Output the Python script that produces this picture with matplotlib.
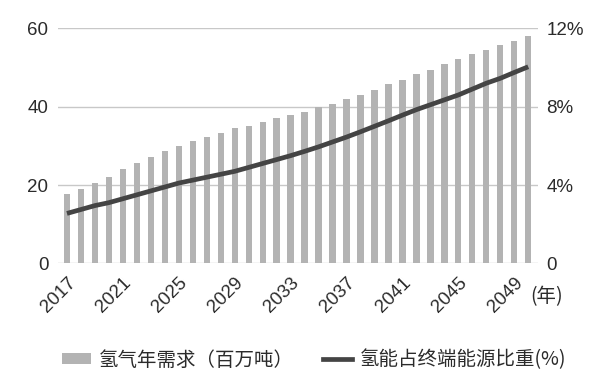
import matplotlib
matplotlib.use("Agg")
import matplotlib.pyplot as plt
import numpy as np
from matplotlib.patches import Patch
from matplotlib.lines import Line2D

plt.rcParams['font.family'] = ['Liberation Sans', 'Noto Sans CJK SC', 'DejaVu Sans']

years = list(range(2017, 2051))
demand = [17.6, 19.1, 20.6, 22.1, 24.0, 25.6, 27.2, 28.7, 29.9, 31.2, 32.2, 33.3,
          34.5, 35.0, 36.1, 37.0, 38.0, 38.7, 39.9, 40.7, 41.9, 42.9, 44.3, 45.7,
          46.9, 48.3, 49.5, 50.8, 52.1, 53.4, 54.5, 55.7, 56.8, 58.0]
share = [2.55, 2.75, 2.95, 3.1, 3.3, 3.5, 3.7, 3.9, 4.1, 4.25, 4.4, 4.55,
         4.7, 4.9, 5.1, 5.3, 5.5, 5.72, 5.95, 6.2, 6.45, 6.72, 7.0, 7.28,
         7.57, 7.85, 8.1, 8.35, 8.6, 8.9, 9.2, 9.45, 9.75, 10.04]
left_ticks = [0, 20, 40, 60]
left_labels = ["0", "20", "40", "60"]
right_ticks = [0, 4, 8, 12]
right_labels = ["0", "4%", "8%", "12%"]
bar_label = "氢气年需求（百万吨）"
line_label = "氢能占终端能源比重(%)"
year_unit = "(年)"

bar_color = "#b3b3b3"
line_color = "#444444"
text_color = "#2b2b2b"
grid_color = "#c8c8c8"

fig = plt.figure(figsize=(6.0, 3.89), dpi=100)
ax = fig.add_axes([0.0967, 0.323, 0.80, 0.604])
x = np.arange(len(years))
ax.bar(x, demand, width=0.45, color=bar_color, zorder=2)
ax.set_ylim(0, 60)
ax.set_xlim(-0.64, 33.7)
ax.set_yticks(left_ticks)
ax.set_yticklabels(left_labels)
ax.yaxis.grid(True, color=grid_color, linewidth=1.0, zorder=0)
ax.set_axisbelow(True)
for s in ax.spines.values():
    s.set_visible(False)
ax.tick_params(axis='both', length=0, labelcolor=text_color)
ax.tick_params(axis='y', labelsize=13.5, pad=7)
tick_idx = list(range(0, len(years), 4))
ax.set_xticks(tick_idx)
ax.set_xticklabels([str(years[i]) for i in tick_idx], rotation=45, ha='right',
                   rotation_mode='anchor', fontsize=13.5)
ax.tick_params(axis='x', pad=8)

ax2 = ax.twinx()
ax2.plot(x, share, color=line_color, linewidth=3.4, solid_capstyle='butt', zorder=3)
ax2.set_ylim(0, 12)
ax2.set_yticks(right_ticks)
ax2.set_yticklabels(right_labels)
for s in ax2.spines.values():
    s.set_visible(False)
ax2.tick_params(axis='y', length=0, labelsize=13.5, pad=6, labelcolor=text_color)

fig.text(547 / 600, 1 - 297 / 389, year_unit, fontsize=14, color=text_color,
         ha='center', va='center', family=['Noto Sans CJK SC', 'DejaVu Sans'])

handles = [Patch(facecolor=bar_color, edgecolor='none'),
           Line2D([0], [0], color=line_color, linewidth=3.4)]
leg = fig.legend(handles, [bar_label, line_label], loc='center',
                 bbox_to_anchor=(0.523, 1 - 360 / 389), ncol=2, frameon=False,
                 handlelength=1.5, handleheight=0.55, handletextpad=0.4,
                 columnspacing=1.5,
                 prop={'family': ['Noto Sans CJK SC', 'DejaVu Sans'], 'size': 14})
for t in leg.get_texts():
    t.set_color(text_color)

fig.savefig("out.png", dpi=100)
